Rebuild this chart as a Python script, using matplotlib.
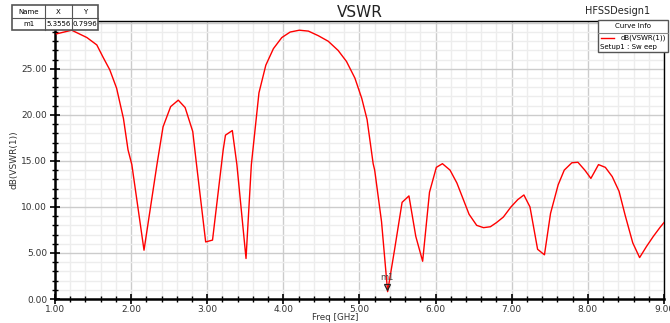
import matplotlib
matplotlib.use("Agg")
import matplotlib.pyplot as plt
from matplotlib.ticker import MultipleLocator, FormatStrFormatter
from matplotlib.lines import Line2D
from matplotlib.patches import Rectangle

freq = [1.02, 1.22, 1.42, 1.55, 1.63, 1.72, 1.81, 1.90, 1.96, 2.01, 2.17, 2.34, 2.42,
        2.52, 2.62, 2.71, 2.81, 2.86, 2.98, 3.07, 3.21, 3.24, 3.33, 3.39, 3.51, 3.58,
        3.68, 3.77, 3.87, 3.98, 4.09, 4.21, 4.33, 4.46, 4.59, 4.72, 4.83, 4.94, 5.03,
        5.10, 5.18, 5.20, 5.29, 5.37, 5.46, 5.56, 5.65, 5.74, 5.83, 5.92, 6.01, 6.09,
        6.19, 6.28, 6.36, 6.44, 6.54, 6.63, 6.72, 6.80, 6.89, 6.99, 7.08, 7.16, 7.24,
        7.34, 7.43, 7.51, 7.61, 7.69, 7.79, 7.87, 7.96, 8.04, 8.14, 8.23, 8.32, 8.41,
        8.49, 8.59, 8.68, 8.77, 8.86, 8.95, 9.00]
vswr_db = [28.8, 29.2, 28.4, 27.6, 26.3, 24.9, 22.9, 19.6, 16.2, 14.6, 5.3, 14.6, 18.7,
           20.9, 21.6, 20.8, 18.2, 14.6, 6.2, 6.4, 16.2, 17.8, 18.3, 14.6, 4.4, 14.6,
           22.4, 25.4, 27.2, 28.4, 29.0, 29.2, 29.1, 28.6, 28.0, 27.0, 25.8, 24.0, 21.8,
           19.5, 14.7, 14.0, 8.4, 0.8, 5.3, 10.5, 11.2, 6.8, 4.1, 11.6, 14.3, 14.7,
           14.0, 12.6, 10.9, 9.2, 8.0, 7.75, 7.85, 8.3, 8.9, 10.0, 10.8, 11.3, 10.0,
           5.4, 4.8, 9.3, 12.4, 14.0, 14.8, 14.85, 14.0, 13.1, 14.6, 14.3, 13.3, 11.7,
           9.1, 6.1, 4.5, 5.7, 6.8, 7.8, 8.3]

marker_name = "m1"
marker_x = 5.3556
marker_y = 0.7996

title = "VSWR"
design = "HFSSDesign1"
xlabel = "Freq [GHz]"
ylabel = "dB(VSWR(1))"
curve_label = "dB(VSWR(1))"
setup_label = "Setup1 : Sw eep"

W, H = 670.0, 323.0
def fx(x): return x / W
def fy(y): return 1 - y / H

fig = plt.figure(figsize=(6.7, 3.23), dpi=100)
ax = fig.add_axes([0.082, 0.0743, 0.909, 0.8607])
ax.set_xlim(1.0, 9.0)
ax.set_ylim(0.0, 30.2)

ax.plot(freq, vswr_db, color="#ff0000", lw=1.0, zorder=3)

ax.xaxis.set_major_locator(MultipleLocator(1.0))
ax.xaxis.set_minor_locator(MultipleLocator(0.2))
ax.yaxis.set_major_locator(MultipleLocator(5.0))
ax.yaxis.set_minor_locator(MultipleLocator(1.0))
ax.xaxis.set_major_formatter(FormatStrFormatter("%.2f"))
ax.yaxis.set_major_formatter(FormatStrFormatter("%.2f"))
ax.grid(which="minor", color="#ededed", lw=1.0, zorder=0)
ax.grid(which="major", color="#cccccc", lw=1.0, zorder=1)
ax.set_axisbelow(True)
ax.tick_params(which="major", direction="inout", length=7, width=1.2, labelsize=6.5, pad=0.5, colors="black")
ax.tick_params(which="minor", direction="inout", length=4, width=1.0)
ax.tick_params(axis="y", which="major", pad=2)
for lab in ax.get_xticklabels() + ax.get_yticklabels():
    lab.set_color("#333333")
for s in ["left", "bottom"]:
    ax.spines[s].set_linewidth(1.8)
for s in ["top", "right"]:
    ax.spines[s].set_linewidth(1.0)

fig.text(fx(335), fy(317.5), xlabel, fontsize=6.3, ha="center", va="center", color="#333333")
ax.set_ylabel(ylabel, fontsize=6.5, labelpad=2, color="#333333")

# marker
ax.plot([marker_x], [marker_y + 0.5], marker="v", ms=5, mfc="none", mec="#222222", mew=0.9, zorder=4)
ax.text(marker_x, marker_y + 1.0, marker_name, fontsize=6, ha="center", va="bottom", color="#444444", zorder=4)

fig.text(0.537, 0.962, title, fontsize=11, ha="center", va="center", color="#222222")
fig.text(0.970, 0.965, design, fontsize=7, ha="right", va="center", color="#222222")

# marker table
colx = [12, 45, 72, 98]
rowy = [5, 18, 30]
fig.patches.append(Rectangle((fx(colx[0]), fy(rowy[2])), (colx[3] - colx[0]) / W, (rowy[2] - rowy[0]) / H,
                             transform=fig.transFigure, fc="white", ec="#555555", lw=1.2, zorder=5))
for cx in colx[1:3]:
    fig.add_artist(Line2D([fx(cx), fx(cx)], [fy(rowy[0]), fy(rowy[2])], transform=fig.transFigure, color="#555555", lw=0.8, zorder=6))
fig.add_artist(Line2D([fx(colx[0]), fx(colx[3])], [fy(rowy[1]), fy(rowy[1])], transform=fig.transFigure, color="#555555", lw=0.8, zorder=6))
hdr = ["Name", "X", "Y"]
vals = [marker_name, "%.4f" % marker_x, "%.4f" % marker_y]
for i in range(3):
    cx = (colx[i] + colx[i + 1]) / 2
    fig.text(fx(cx), fy((rowy[0] + rowy[1]) / 2), hdr[i], fontsize=5, ha="center", va="center", zorder=7)
    fig.text(fx(cx), fy((rowy[1] + rowy[2]) / 2), vals[i], fontsize=5, ha="center", va="center", zorder=7)

# curve info box
bx0, bx1, by0, by1, by2 = 598, 668, 20, 33, 52
fig.patches.append(Rectangle((fx(bx0), fy(by2)), (bx1 - bx0) / W, (by2 - by0) / H,
                             transform=fig.transFigure, fc="white", ec="#555555", lw=1.0, zorder=5))
fig.add_artist(Line2D([fx(bx0), fx(bx1)], [fy(by1), fy(by1)], transform=fig.transFigure, color="#888888", lw=0.8, zorder=6))
fig.text(fx((bx0 + bx1) / 2), fy((by0 + by1) / 2), "Curve Info", fontsize=5, ha="center", va="center", zorder=7)
fig.add_artist(Line2D([fx(601), fx(614)], [fy(38), fy(38)], transform=fig.transFigure, color="#ff0000", lw=1.0, zorder=6))
fig.text(fx(666), fy(38), curve_label, fontsize=5, ha="right", va="center", zorder=7)
fig.text(fx(600), fy(46.5), setup_label, fontsize=5, ha="left", va="center", zorder=7)

fig.savefig("out.png", dpi=100)
